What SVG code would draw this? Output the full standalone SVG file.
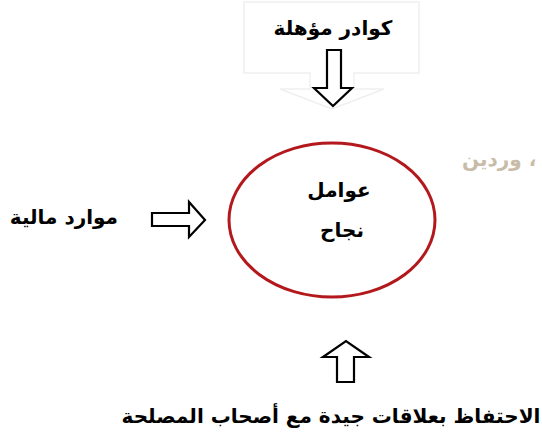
<svg xmlns="http://www.w3.org/2000/svg" width="542" height="447" viewBox="0 0 542 447">
<style>
.t{font-family:"DejaVu Sans","Noto Sans",sans-serif;font-weight:bold;font-size:20px;fill:#000}
.arr{fill:#fff;stroke:#000;stroke-width:2.2;stroke-linejoin:miter}
.faint{fill:#fff;stroke:#efefef;stroke-width:1.5}
</style>
<rect width="542" height="447" fill="#fff"/>
<g id="callout">
<path class="faint" d="M244,2 H419 V73 H354 V89 H384 L332,109 L280,89 H310 V73 H244 Z"/>
</g>
<g id="node-staff">
<text class="t" x="333" y="35" text-anchor="middle" direction="rtl">كوادر مؤهلة</text>
</g>
<g id="node-suppliers">
<text x="462" y="166" direction="ltr" text-anchor="start" style="font-family:'DejaVu Sans',sans-serif;font-weight:bold;font-size:20px;fill:#c8bca9;unicode-bidi:embed">وردين<tspan> ،</tspan></text>
</g>
<g id="node-center">
<ellipse cx="332" cy="220" rx="103" ry="77" fill="#fff" stroke="#b3181c" stroke-width="3"/>
<text class="t" x="339" y="197" text-anchor="middle" direction="rtl">عوامل</text>
<text class="t" x="342" y="237" text-anchor="middle" direction="rtl">نجاح</text>
</g>
<g id="node-finance">
<text class="t" x="118" y="224" text-anchor="end" direction="ltr">موارد مالية</text>
</g>
<g id="node-relations">
<text class="t" x="331" y="423" text-anchor="middle" direction="rtl">الاحتفاظ بعلاقات جيدة مع أصحاب المصلحة</text>
</g>
<g id="connectors">
<path class="arr" d="M327,50 H341 V88 H352 L333,106 L314,88 H327 Z"/>
<path class="arr" d="M152,213 H189 V202 L205,220 L189,237 V226 H152 Z"/>
<path class="arr" d="M337,382 H354 V357 H369 L346,341 L323,357 H337 Z"/>
</g>
</svg>
